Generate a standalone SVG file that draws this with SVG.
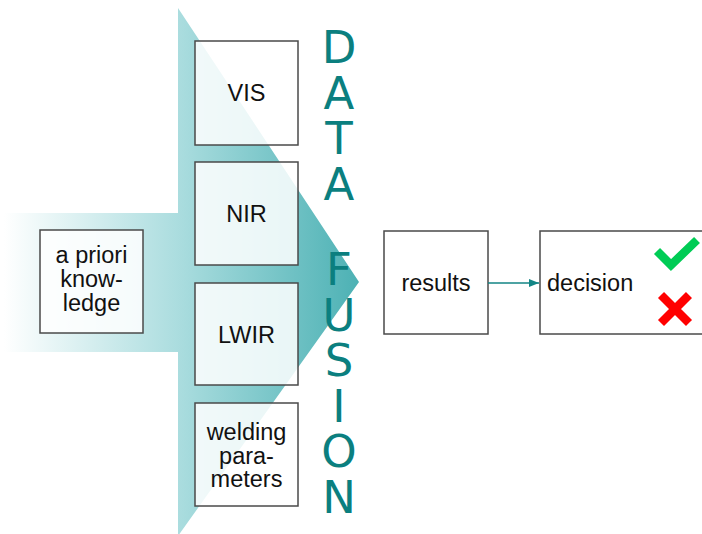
<svg xmlns="http://www.w3.org/2000/svg" width="702" height="534" viewBox="0 0 702 534">
  <defs>
    <linearGradient id="flow" gradientUnits="userSpaceOnUse" x1="4" y1="0" x2="360" y2="0">
      <stop offset="0" stop-color="#ffffff"/>
      <stop offset="0.5" stop-color="#a9dcde"/>
      <stop offset="1" stop-color="#4cb1b4"/>
    </linearGradient>
    <marker id="arrow" viewBox="0 0 10 10" refX="10" refY="5" markerWidth="10" markerHeight="10" markerUnits="userSpaceOnUse" orient="auto">
      <path d="M0,1 L10,5 L0,9 z" fill="#138585"/>
    </marker>
  </defs>
  <style>
    .box { fill: #ffffff; fill-opacity: 0.85; stroke: #4a4a4a; stroke-width: 1.5; }
    .lbl { font-family: "Liberation Sans", Arial, sans-serif; font-size: 23.5px; fill: #111; text-anchor: middle; }
    .big { font-family: "DejaVu Sans", Verdana, sans-serif; font-size: 45px; fill: #0b7f7f;
           writing-mode: vertical-rl; text-orientation: upright; letter-spacing: -7.5px; }
  </style>

  <!-- fusion funnel: input band and merging wedge -->
  <g id="funnel">
    <polygon points="0,213 178,213 178,8 359,282 178,536 178,352 0,352" fill="url(#flow)"/>
  </g>

  <!-- vertical title, one column per word -->
  <g id="title">
    <text class="big" x="339" y="21">DATA</text>
    <text class="big" x="339" y="243">FUSION</text>
  </g>

  <g id="apriori">
    <rect class="box" x="40" y="230" width="103" height="103"/>
    <text class="lbl" x="91.5" y="263">a priori</text>
    <text class="lbl" x="91.5" y="287">know-</text>
    <text class="lbl" x="91.5" y="311">ledge</text>
  </g>

  <g id="vis">
    <rect class="box" x="195" y="41" width="103" height="104"/>
    <text class="lbl" x="246.5" y="101">VIS</text>
  </g>

  <g id="nir">
    <rect class="box" x="195" y="162" width="103" height="103"/>
    <text class="lbl" x="246.5" y="222">NIR</text>
  </g>

  <g id="lwir">
    <rect class="box" x="195" y="283" width="103" height="102"/>
    <text class="lbl" x="246.5" y="343">LWIR</text>
  </g>

  <g id="welding">
    <rect class="box" x="195" y="403" width="103" height="103"/>
    <text class="lbl" x="246.5" y="440">welding</text>
    <text class="lbl" x="246.5" y="463.5">para-</text>
    <text class="lbl" x="246.5" y="487">meters</text>
  </g>

  <g id="results">
    <rect class="box" x="384" y="231" width="104" height="103"/>
    <text class="lbl" x="436" y="291">results</text>
  </g>

  <g id="decision">
    <rect class="box" x="540" y="231" width="170" height="103"/>
    <text class="lbl" x="547" y="291" style="text-anchor:start">decision</text>
    <polyline points="657,251 671,265 697,240" fill="none" stroke="#00cc55" stroke-width="8.5"/>
    <path d="M661,295 L689,323 M689,295 L661,323" stroke="#ff0000" stroke-width="8.5" fill="none"/>
  </g>

  <g id="connectors">
    <line x1="488" y1="283" x2="539" y2="283" stroke="#138585" stroke-width="1.5" marker-end="url(#arrow)"/>
  </g>
</svg>
